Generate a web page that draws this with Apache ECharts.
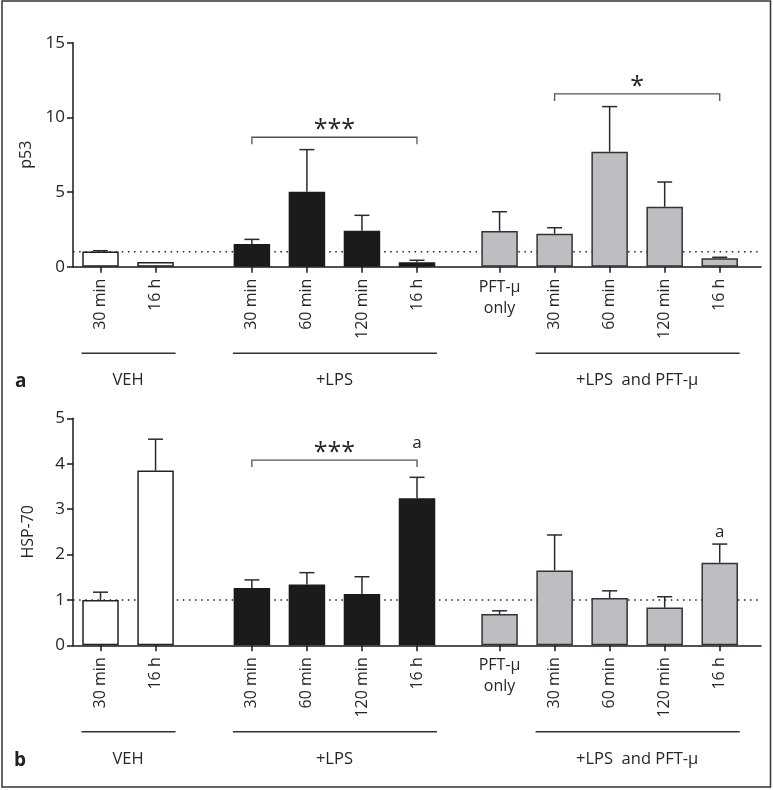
<!DOCTYPE html>
<html>
<head>
<meta charset="utf-8">
<script src="https://cdn.jsdelivr.net/npm/echarts@6/dist/echarts.min.js"></script>
<style>
html,body{margin:0;padding:0;background:#fff;}
#chart{width:773px;height:790px;}
</style>
</head>
<body>
<div id="chart"></div>
<script>
// ---------------- data ----------------
const categories = ['30 min', '16 h', '30 min', '60 min', '120 min', '16 h', 'PFT-μ\nonly', '30 min', '60 min', '120 min', '16 h'];
const barGroup   = ['VEH', 'VEH', 'LPS', 'LPS', 'LPS', 'LPS', 'PFT', 'LPSPFT', 'LPSPFT', 'LPSPFT', 'LPSPFT'];
const groupNames = ['VEH', '+LPS', '+LPS  and PFT-μ'];
const groupKeys  = ['VEH', 'LPS', 'LPSPFT'];

const p53Mean = [1.02, 0.31, 1.52, 5.02, 2.41, 0.29, 2.39, 2.21, 7.70, 4.02, 0.56];
const p53Err  = [0.05, 0.00, 0.31, 2.82, 1.03, 0.14, 1.29, 0.40, 3.02, 1.65, 0.07];
const hspMean = [1.00, 3.85, 1.26, 1.34, 1.13, 3.24, 0.69, 1.65, 1.04, 0.83, 1.82];
const hspErr  = [0.17, 0.69, 0.18, 0.26, 0.38, 0.46, 0.07, 0.78, 0.16, 0.24, 0.41];

const p53Ticks = [0, 5, 10, 15];
const hspTicks = [0, 1, 2, 3, 4, 5];
const refValue = 1;

// significance annotations: [fromBar, toBar, legValue, topValue, label]
const p53Brackets = [[2, 5, 8.2, 8.67, '***'], [7, 10, 11.1, 11.57, '*']];
const hspBrackets = [[2, 5, 3.93, 4.08, '***']];
// letter marks: [bar, value, label]
const hspLetters = [[5, 4.46, 'a'], [10, 2.49, 'a']];

// ---------------- layout helpers ----------------
const gapBefore = [2, 4, 7, 4, 4, 4, 6, 4, 4, 4, 4];
const slotIdx = [];
{ let s = 0; gapBefore.forEach(g => { s += g; slotIdx.push(s); }); }
const nSlots = slotIdx[slotIdx.length - 1] + 4;
const slots = Array.from({length: nSlots}, (_, i) => 'c' + i);
const slotLabel = {};
slotIdx.forEach((s, i) => { slotLabel[s] = categories[i]; });
const pftSlot = slotIdx[categories.indexOf('PFT-μ\nonly')];

const FONT = '"Open Sans", "DejaVu Sans", sans-serif';
const TXT = '#262626';
const FS = 16;
const fills = {VEH: '#ffffff', LPS: '#1b1b1b', PFT: '#bdbec1', LPSPFT: '#bdbec1'};
const borders = {VEH: '#222', LPS: '#1b1b1b', PFT: '#333', LPSPFT: '#333'};

function barData(means) {
  const arr = slots.map(() => '-');
  slotIdx.forEach((s, i) => {
    arr[s] = {value: means[i], itemStyle: {color: fills[barGroup[i]], borderColor: borders[barGroup[i]], borderWidth: 1.5}};
  });
  return arr;
}
function errData(means, errs) {
  return slotIdx.map((s, i) => [s, means[i], errs[i]]);
}

function xAxes(gi) {
  return [{
    type: 'category', gridIndex: gi, data: slots, boundaryGap: false, position: 'bottom',
    axisLine: {lineStyle: {color: '#1a1a1a', width: 1.5}},
    axisTick: {length: 6, lineStyle: {color: '#1a1a1a', width: 1.5}, interval: (i) => slotLabel[i] !== undefined},
    axisLabel: {interval: (i) => slotLabel[i] !== undefined && i !== pftSlot, rotate: 90, margin: 12,
      fontFamily: FONT, fontSize: FS, color: TXT, formatter: (v, i) => slotLabel[i] || ''},
    splitLine: {show: false}
  }, {
    type: 'category', gridIndex: gi, data: slots, boundaryGap: false, position: 'bottom',
    axisLine: {show: false}, axisTick: {show: false},
    axisLabel: {interval: (i) => i === pftSlot, rotate: 0, margin: 10, lineHeight: 21,
      fontFamily: FONT, fontSize: FS, color: TXT, formatter: (v, i) => slotLabel[i] || ''},
    splitLine: {show: false}
  }];
}
function yAxis(gi, ticks, name) {
  return {
    type: 'value', gridIndex: gi, min: ticks[0], max: ticks[ticks.length - 1], interval: ticks[1] - ticks[0],
    name: name, nameLocation: 'middle', nameGap: 37,
    nameTextStyle: {fontFamily: FONT, fontSize: FS, color: TXT},
    axisLine: {show: true, lineStyle: {color: '#1a1a1a', width: 1.5}},
    axisTick: {show: true, length: 6, lineStyle: {color: '#1a1a1a', width: 1.5}},
    axisLabel: {fontFamily: FONT, fontSize: 17, color: TXT, margin: 8},
    splitLine: {show: false}
  };
}

function panelSeries(xi, yi, means, errs, brackets, letters) {
  const out = [];
  out.push({
    type: 'line', xAxisIndex: xi, yAxisIndex: yi, data: slots.map(() => refValue),
    symbol: 'none', silent: true, z: 1,
    lineStyle: {type: [1.5, 4.6], color: '#222', width: 1.5}
  });
  out.push({
    type: 'bar', xAxisIndex: xi, yAxisIndex: yi, data: barData(means), barWidth: 36.5, z: 2, silent: true
  });
  out.push({
    type: 'custom', xAxisIndex: xi, yAxisIndex: yi, data: errData(means, errs), z: 3, silent: true,
    renderItem: (params, api) => {
      const x = api.value(0), m = api.value(1), e = api.value(2);
      if (!e) return null;
      const p0 = api.coord([x, m]), p1 = api.coord([x, m + e]);
      const st = {stroke: '#2a2a2a', lineWidth: 1.5};
      return {type: 'group', children: [
        {type: 'line', shape: {x1: p0[0], y1: p0[1], x2: p1[0], y2: p1[1]}, style: st},
        {type: 'line', shape: {x1: p1[0] - 7.5, y1: p1[1], x2: p1[0] + 7.5, y2: p1[1]}, style: st}
      ]};
    }
  });
  out.push({
    type: 'custom', xAxisIndex: xi, yAxisIndex: yi, z: 4, silent: true,
    data: brackets.map(b => [slotIdx[b[0]], slotIdx[b[1]], b[2], b[3]]),
    renderItem: (params, api) => {
      const a = api.value(0), b = api.value(1), leg = api.value(2), top = api.value(3);
      const p1 = api.coord([a, leg]), p2 = api.coord([a, top]), p3 = api.coord([b, top]), p4 = api.coord([b, leg]);
      const lbl = brackets[params.dataIndex][4];
      return {type: 'group', children: [
        {type: 'polyline', shape: {points: [p1, p2, p3, p4]}, style: {stroke: '#555', lineWidth: 1.3, fill: null}},
        {type: 'text', x: (p2[0] + p3[0]) / 2, y: p2[1] + 5,
          style: {text: lbl, fill: TXT, font: '25px ' + FONT, align: 'center', verticalAlign: 'bottom',
            textAlign: 'center', textVerticalAlign: 'bottom'}}
      ]};
    }
  });
  if (letters.length) {
    out.push({
      type: 'custom', xAxisIndex: xi, yAxisIndex: yi, z: 4, silent: true,
      data: letters.map(l => [slotIdx[l[0]], l[1]]),
      renderItem: (params, api) => {
        const p = api.coord([api.value(0), api.value(1)]);
        return {type: 'text', x: p[0], y: p[1],
          style: {text: letters[params.dataIndex][2], fill: TXT, font: '17px ' + FONT, align: 'center',
            verticalAlign: 'middle', textAlign: 'center', textVerticalAlign: 'middle'}};
      }
    });
  }
  const groupData = groupKeys.map(k => {
    const idxs = barGroup.map((g, i) => g === k ? i : -1).filter(i => i >= 0);
    return [slotIdx[idxs[0]], slotIdx[idxs[idxs.length - 1]]];
  });
  out.push({
    type: 'custom', xAxisIndex: xi, yAxisIndex: yi, z: 4, silent: true, clip: false,
    data: groupData,
    renderItem: (params, api) => {
      const a = api.coord([api.value(0), 0]), b = api.coord([api.value(1), 0]);
      const y = a[1] + 86.5;
      return {type: 'group', children: [
        {type: 'line', shape: {x1: a[0] - 19, y1: y, x2: b[0] + 20, y2: y}, style: {stroke: '#333', lineWidth: 1.5}},
        {type: 'text', x: (a[0] + b[0]) / 2, y: y + 19,
          style: {text: groupNames[params.dataIndex], fill: TXT, font: '16.5px ' + FONT, align: 'center',
            verticalAlign: 'alphabetic', textAlign: 'center', textVerticalAlign: 'alphabetic'}}
      ]};
    }
  });
  return out;
}

const chart = echarts.init(document.getElementById('chart'), null, {renderer: 'canvas'});
chart.setOption({
  animation: false,
  backgroundColor: '#fff',
  grid: [
    {left: 73, top: 42.7, width: 688, height: 224},
    {left: 73, top: 418.3, width: 688, height: 227}
  ],
  xAxis: [...xAxes(0), ...xAxes(1)],
  yAxis: [yAxis(0, p53Ticks, 'p53'), yAxis(1, hspTicks, 'HSP-70')],
  series: [
    ...panelSeries(0, 0, p53Mean, p53Err, p53Brackets, []),
    ...panelSeries(2, 1, hspMean, hspErr, hspBrackets, hspLetters)
  ],
  graphic: [
    {type: 'rect', shape: {x: 2, y: 1, width: 768.5, height: 786}, style: {fill: null, stroke: '#333', lineWidth: 1.5}, silent: true},
    {type: 'text', x: 15, y: 372, style: {text: 'a', font: 'bold 19px ' + FONT, fill: '#222', textVerticalAlign: 'alphabetic', verticalAlign: 'alphabetic'}},
    {type: 'text', x: 14, y: 751, style: {text: 'b', font: 'bold 19px ' + FONT, fill: '#222', textVerticalAlign: 'alphabetic', verticalAlign: 'alphabetic'}}
  ]
});
</script>
</body>
</html>
